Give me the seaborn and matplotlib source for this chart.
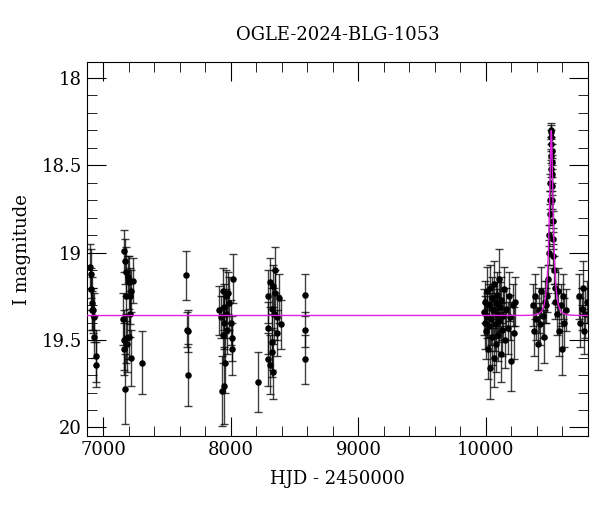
import numpy as np
import pandas as pd
import matplotlib
matplotlib.use("Agg")
import matplotlib.pyplot as plt
import seaborn as sns
from matplotlib.ticker import MultipleLocator

title = "OGLE-2024-BLG-1053"
xlabel = "HJD - 2450000"
ylabel = "I magnitude"

hjd_s1 = [6895, 6900, 6905, 6910, 6915, 6920, 6925, 6930, 6940, 6945]
mag_s1 = [19.08, 19.12, 19.21, 19.29, 19.33, 19.33, 19.37, 19.48, 19.59, 19.64]
err_s1 = [0.13, 0.14, 0.12, 0.15, 0.11, 0.13, 0.14, 0.12, 0.15, 0.13]

hjd_s2 = [7165, 7170, 7180, 7195, 7200, 7230, 7180, 7210, 7215, 7210,
          7155, 7160, 7175, 7185, 7165, 7205, 7215, 7170, 7300]
mag_s2 = [18.99, 19.05, 19.11, 19.14, 19.17, 19.16, 19.25, 19.25, 19.22, 19.35,
          19.38, 19.50, 19.49, 19.52, 19.55, 19.48, 19.60, 19.78, 19.63]
err_s2 = [0.12, 0.13, 0.14, 0.12, 0.15, 0.13, 0.14, 0.16, 0.12, 0.13,
          0.15, 0.17, 0.14, 0.16, 0.15, 0.13, 0.16, 0.20, 0.18]

hjd_s3 = [7650, 7655, 7660, 7665]
mag_s3 = [19.13, 19.44, 19.45, 19.70]
err_s3 = [0.14, 0.10, 0.12, 0.18]

hjd_s4 = [8015, 7935, 7960, 7975, 7910, 7950, 7985, 7920, 7960, 8000,
          7945, 7970, 7940, 8005, 8010, 7955, 7945, 7930]
mag_s4 = [19.15, 19.22, 19.25, 19.23, 19.33, 19.31, 19.29, 19.37, 19.35, 19.40,
          19.40, 19.44, 19.47, 19.49, 19.55, 19.63, 19.76, 19.79]
err_s4 = [0.14, 0.13, 0.15, 0.12, 0.14, 0.13, 0.15, 0.12, 0.14, 0.13,
          0.15, 0.14, 0.16, 0.13, 0.15, 0.17, 0.22, 0.20]

hjd_s5 = [8345, 8310, 8330, 8295, 8345, 8375, 8320, 8335, 8360, 8390,
          8290, 8360, 8320, 8325, 8295, 8310, 8330]
mag_s5 = [19.10, 19.17, 19.19, 19.25, 19.23, 19.26, 19.32, 19.35, 19.37, 19.41,
          19.43, 19.46, 19.51, 19.57, 19.61, 19.64, 19.68]
err_s5 = [0.13, 0.14, 0.12, 0.15, 0.13, 0.14, 0.12, 0.15, 0.13, 0.14,
          0.15, 0.13, 0.16, 0.14, 0.15, 0.17, 0.16]

hjd_s6 = [8215, 8585, 8585, 8585]
mag_s6 = [19.74, 19.24, 19.44, 19.61]
err_s6 = [0.17, 0.12, 0.10, 0.14]

hjd_s7 = [9985, 9990, 9995, 10000, 10005, 10010, 10015, 10020, 10025, 10030,
          10035, 10040, 10045, 10050, 10055, 10060, 10065, 10070, 10075, 10080,
          10085, 10090, 10095, 10100, 10105, 10110, 10115, 10120, 10125, 10130,
          10140, 10150, 10160, 10170, 10180, 10190, 10200, 10210, 10220, 10230]
mag_s7 = [19.34, 19.40, 19.28, 19.45, 19.22, 19.36, 19.55, 19.30, 19.42, 19.66,
          19.20, 19.38, 19.48, 19.26, 19.33, 19.60, 19.18, 19.41, 19.29, 19.52,
          19.35, 19.24, 19.47, 19.15, 19.39, 19.31, 19.58, 19.27, 19.44, 19.36,
          19.21, 19.50, 19.32, 19.43, 19.25, 19.37, 19.62, 19.30, 19.46, 19.28]
err_s7 = [0.13, 0.15, 0.12, 0.16, 0.14, 0.13, 0.17, 0.12, 0.14, 0.18,
          0.13, 0.15, 0.16, 0.12, 0.14, 0.17, 0.13, 0.15, 0.12, 0.16,
          0.14, 0.13, 0.15, 0.17, 0.12, 0.14, 0.16, 0.13, 0.15, 0.14,
          0.13, 0.16, 0.12, 0.15, 0.14, 0.13, 0.17, 0.12, 0.15, 0.14]

hjd_s8 = [10365, 10375, 10385, 10395, 10405, 10415, 10425, 10435, 10445, 10455,
          10462, 10470, 10480, 10488, 10494, 10498, 10501, 10503, 10505, 10507,
          10508, 10510, 10511, 10512, 10513, 10514, 10515, 10516, 10518, 10520,
          10522, 10525, 10528, 10532, 10538, 10545, 10555, 10565, 10575, 10585,
          10595, 10605, 10615, 10625]
mag_s8 = [19.30, 19.45, 19.25, 19.38, 19.52, 19.33, 19.41, 19.22, 19.36, 19.48,
          19.28, 19.30, 19.25, 19.15, 19.00, 18.90, 18.78, 18.70, 18.60, 18.52,
          18.45, 18.38, 18.31, 18.30, 18.34, 18.42, 18.48, 18.55, 18.62, 18.70,
          18.82, 18.92, 19.02, 19.10, 19.20, 19.28, 19.35, 19.22, 19.45, 19.30,
          19.55, 19.25, 19.40, 19.33]
err_s8 = [0.12, 0.14, 0.13, 0.12, 0.15, 0.13, 0.12, 0.14, 0.13, 0.15,
          0.12, 0.10, 0.09, 0.08, 0.07, 0.06, 0.06, 0.05, 0.05, 0.05,
          0.04, 0.04, 0.04, 0.04, 0.04, 0.04, 0.04, 0.05, 0.05, 0.05,
          0.06, 0.06, 0.07, 0.08, 0.09, 0.10, 0.12, 0.13, 0.14, 0.12,
          0.15, 0.13, 0.14, 0.12]

hjd_s9 = [10730, 10740, 10750, 10760, 10770, 10780, 10790]
mag_s9 = [19.25, 19.40, 19.32, 19.20, 19.45, 19.35, 19.28]
err_s9 = [0.13, 0.14, 0.12, 0.15, 0.13, 0.14, 0.12]

# PSPL model parameters
t0, tE, u0, fs, base = 10512.0, 30.0, 0.35, 0.83, 19.36

hjd = hjd_s1 + hjd_s2 + hjd_s3 + hjd_s4 + hjd_s5 + hjd_s6 + hjd_s7 + hjd_s8 + hjd_s9
mag = mag_s1 + mag_s2 + mag_s3 + mag_s4 + mag_s5 + mag_s6 + mag_s7 + mag_s8 + mag_s9
err = err_s1 + err_s2 + err_s3 + err_s4 + err_s5 + err_s6 + err_s7 + err_s8 + err_s9
df = pd.DataFrame({"hjd": hjd, "mag": mag, "err": err})

t = np.linspace(6800, 10850, 6000)
u = np.sqrt(u0**2 + ((t - t0) / tE) ** 2)
A = (u**2 + 2) / (u * np.sqrt(u**2 + 4))
mod = pd.DataFrame({"t": t, "m": base - 2.5 * np.log10(fs * (A - 1) + 1)})

plt.rcParams["font.family"] = "DejaVu Serif"
fig = plt.figure(figsize=(6, 5.12), dpi=100)
ax = fig.add_axes([0.145, 0.148, 0.835, 0.731])

ax.errorbar(df.hjd, df.mag, yerr=df.err, fmt="none", ecolor="black", elinewidth=1.0,
            capsize=3, capthick=1.0, alpha=0.75, zorder=2)
sns.scatterplot(data=df, x="hjd", y="mag", ax=ax, color="black", s=22,
                edgecolor="black", linewidth=0, zorder=3)
sns.lineplot(data=mod, x="t", y="m", ax=ax, color="#e020e0", linewidth=1.0, zorder=4)

ax.set_xlim(6872, 10800)
ax.set_ylim(20.05, 17.91)
ax.xaxis.set_major_locator(MultipleLocator(1000))
ax.xaxis.set_minor_locator(MultipleLocator(200))
ax.yaxis.set_major_locator(MultipleLocator(0.5))
ax.yaxis.set_minor_locator(MultipleLocator(0.1))
ax.yaxis.set_major_formatter(matplotlib.ticker.FuncFormatter(lambda v, p: f"{v:g}"))
ax.tick_params(which="both", direction="in", top=True, right=True, labelsize=13)
ax.tick_params(which="major", length=14)
ax.tick_params(which="minor", length=7)
ax.set_xlabel(xlabel, fontsize=13, labelpad=8)
ax.set_ylabel(ylabel, fontsize=13, labelpad=8)
ax.set_title(title, fontsize=13, pad=16)
fig.savefig("out.png", dpi=100)
